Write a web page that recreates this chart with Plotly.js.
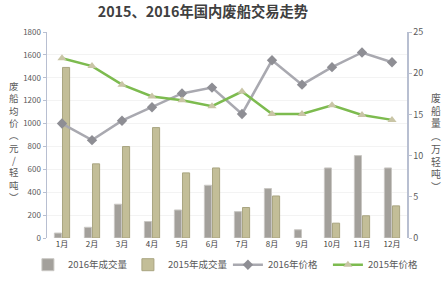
<!DOCTYPE html>
<html>
<head>
<meta charset="utf-8">
<script src="https://cdn.plot.ly/plotly-3.0.1.min.js"></script>
<style>html,body{margin:0;padding:0;background:#fff;}#chart{width:448px;height:291px;}</style>
</head>
<body>
<div id="chart"></div>
<script>
const months = ['1月','2月','3月','4月','5月','6月','7月','8月','9月','10月','11月','12月'];
const vol2016 = [0.6, 1.3, 4.1, 2.0, 3.4, 6.4, 3.2, 6.0, 1.0, 8.5, 10.0, 8.5];
const vol2015 = [20.7, 9.0, 11.1, 13.4, 7.9, 8.5, 3.7, 5.1, null, 1.8, 2.7, 3.9];
const price2016 = [1000, 855, 1025, 1143, 1263, 1314, 1084, 1553, 1340, 1493, 1621, 1536];
const price2015 = [1570, 1502, 1340, 1237, 1203, 1152, 1280, 1084, 1084, 1160, 1075, 1032];
const leftTitle = ['废','船','均','价','︵','元','/','轻','吨','︶'];
const rightTitle = ['废','船','量','︵','万','轻','吨','︶'];

const FONT = 'Noto Sans CJK SC, Noto Sans, sans-serif';
const M = {l:47, r:41, t:32, b:48};
const PW = 448 - M.l - M.r, PH = 291 - M.t - M.b;

function vertTitle(chars, px, pyCenter, size) {
  return {
    text: chars.join('<br>'), xref:'paper', yref:'paper',
    x: (px - M.l) / PW, y: (291 - M.b - pyCenter) / PH,
    xanchor:'center', yanchor:'middle', showarrow:false,
    font:{family:FONT, size:size, color:'#595959'}
  };
}

const traces = [
  {type:'bar', name:'2016年成交量', x:months, y:vol2016, yaxis:'y',
   marker:{color:'#a3a09b', line:{color:'#c9c7c3', width:1}}},
  {type:'bar', name:'2015年成交量', x:months, y:vol2015, yaxis:'y',
   marker:{color:'#c3be98', line:{color:'#a9a581', width:1}}},
  {type:'scatter', mode:'lines+markers', name:'2016年价格', x:months, y:price2016, yaxis:'y2',
   line:{color:'#a9a9b0', width:2.5}, marker:{symbol:'diamond', size:8, color:'#8e8e94'}},
  {type:'scatter', mode:'lines+markers', name:'2015年价格', x:months, y:price2015, yaxis:'y2',
   line:{color:'#7dbb4f', width:2.5}, marker:{symbol:'triangle-up', size:8, color:'#c9c5a6'}}
];

const layout = {
  width:448, height:291,
  paper_bgcolor:'#ffffff', plot_bgcolor:'#ffffff',
  margin:M,
  font:{family:FONT, color:'#595959', size:9},
  title:{text:'<b>2015、2016年国内废船交易走势</b>', x:0.453, xanchor:'center', y:0.975, yanchor:'top',
         font:{family:FONT, size:14.3, color:'#404040'}},
  barmode:'group', bargap:0.46, bargroupgap:0.12,
  showlegend:true,
  legend:{orientation:'h', xref:'paper', x:-0.053, xanchor:'left', yref:'paper', y:-0.2, yanchor:'bottom',
          font:{family:FONT, size:9.5, color:'#595959'}, entrywidth:55, entrywidthmode:'pixels',
          itemwidth:30, tracegroupgap:0, bgcolor:'rgba(0,0,0,0)'},
  xaxis:{type:'category', range:[-0.5, 11.5], showline:false, ticks:'',
         tickfont:{family:FONT, size:8, color:'#404040'}, showgrid:false, zeroline:false},
  yaxis:{side:'right', range:[0,25], dtick:5, showline:true, linecolor:'#b8bfd1', linewidth:1.5,
         ticks:'outside', ticklen:3, tickcolor:'#b8bfd1', showgrid:false, zeroline:false,
         tickfont:{family:FONT, size:9, color:'#595959'}},
  yaxis2:{side:'left', overlaying:'y', range:[0,1800], dtick:200, showline:true, linecolor:'#b8bfd1', linewidth:1.5,
          ticks:'outside', ticklen:3, tickcolor:'#b8bfd1', showgrid:true, gridcolor:'#f3f3f3', zeroline:false,
          tickfont:{family:FONT, size:8, color:'#595959'}},
  annotations: [vertTitle(leftTitle, 14, 144, 9.5), vertTitle(rightTitle, 436, 145, 9.8)]
};

Plotly.newPlot('chart', traces, layout, {displayModeBar:false, staticPlot:true});
</script>
</body>
</html>
